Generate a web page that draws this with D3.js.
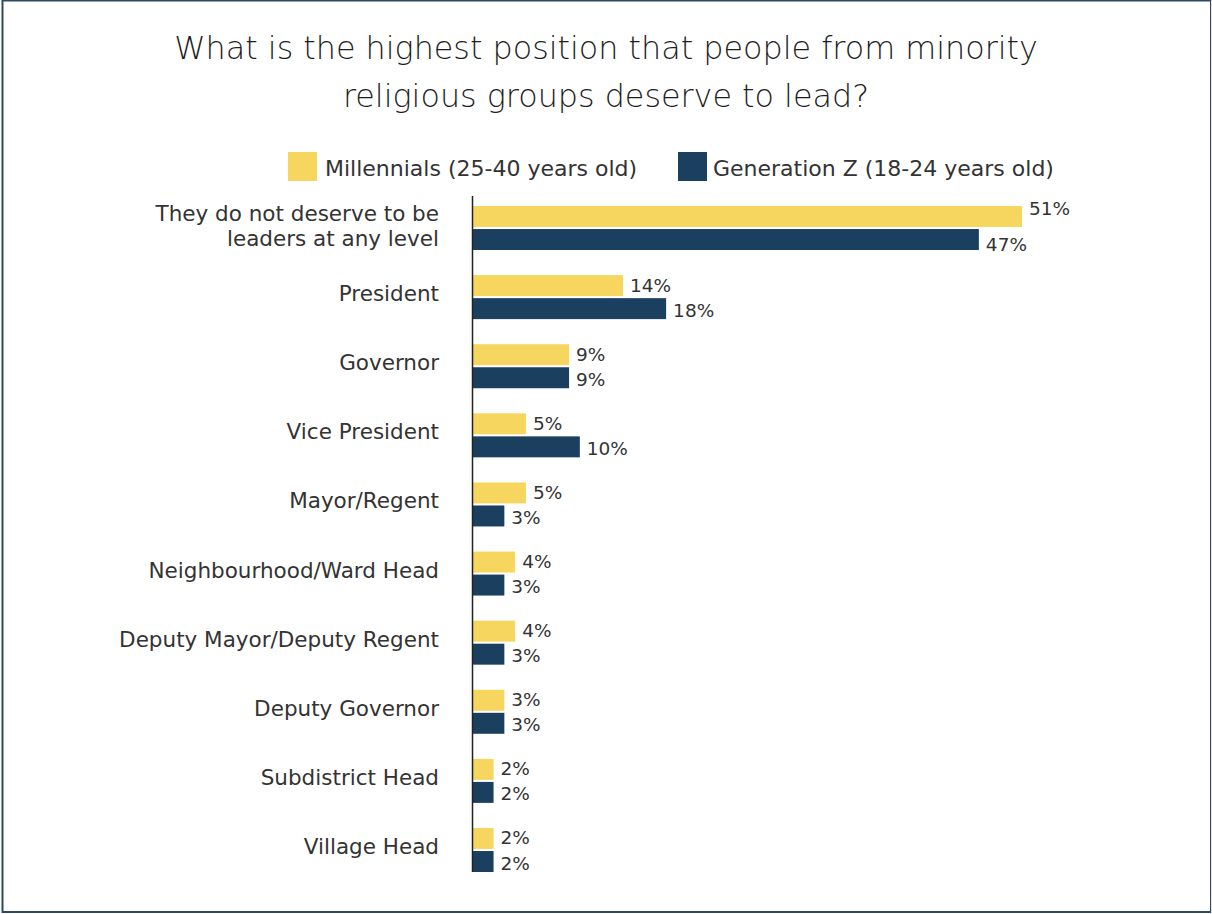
<!DOCTYPE html>
<html>
<head>
<meta charset="utf-8">
<script src="https://cdn.jsdelivr.net/npm/d3@7"></script>
<style>
  html, body { margin: 0; padding: 0; background: #fff; }
  svg { display: block; }
  text { font-family: "DejaVu Sans", "Open Sans", sans-serif; }
</style>
</head>
<body>
<svg id="chart" width="1212" height="914"></svg>
<script>
// Survey answers, top to bottom
const positions = [
  "They do not deserve to be|leaders at any level",
  "President",
  "Governor",
  "Vice President",
  "Mayor/Regent",
  "Neighbourhood/Ward Head",
  "Deputy Mayor/Deputy Regent",
  "Deputy Governor",
  "Subdistrict Head",
  "Village Head"
];
const seriesNames = ["Millennials (25-40 years old)", "Generation Z (18-24 years old)"];
const millennials = [51, 14, 9, 5, 5, 4, 4, 3, 2, 2];
const genZ = [47, 18, 9, 10, 3, 3, 3, 3, 2, 2];
const seriesColors = ["#F6D65E", "#1B3F5F"];
const titleLines = [
  "What is the highest position that people from minority",
  "religious groups deserve to lead?"
];

const svg = d3.select("#chart");
const W = 1212, H = 914;

// frame
svg.append("rect").attr("x", 2.5).attr("y", 0.5).attr("width", W - 3.5).attr("height", H - 2.5)
  .attr("fill", "none").attr("stroke", "#2E4A63").attr("stroke-width", 2);
svg.append("line").attr("x1", W - 0.5).attr("x2", W - 0.5).attr("y1", 0).attr("y2", H)
  .attr("stroke", "#e4e4e4").attr("stroke-width", 1);

// title
svg.append("g").selectAll("text").data(titleLines).join("text")
  .attr("x", 606).attr("y", (d, i) => 59 + i * 48)
  .attr("text-anchor", "middle")
  .attr("font-size", 31.8).attr("font-weight", 200).attr("fill", "#1e1e1e")
  .text(d => d);

// scales
const x = d3.scaleLinear().domain([0, 51]).range([472, 1022]);
const y = d3.scaleBand().domain(positions).range([193.45, 884.55]).paddingInner(0).paddingOuter(0);
const sub = d3.scaleBand().domain([0, 1]).range([-22, 22]).paddingInner(0.09);

// legend
const legend = svg.append("g");
const legendItems = [{ sx: 288, tx: 325 }, { sx: 678, tx: 713 }];
legendItems.forEach((it, i) => {
  legend.append("rect").attr("x", it.sx).attr("y", 152).attr("width", 29).attr("height", 29)
    .attr("fill", seriesColors[i]);
  legend.append("text").attr("x", it.tx).attr("y", 175.5)
    .attr("font-size", 22).attr("fill", "#333")
    .text(seriesNames[i]);
});

// bars
const rows = positions.map((p, i) => ({ p, i, vals: [millennials[i], genZ[i]] }));
const g = svg.append("g");
const groups = g.selectAll("g.row").data(rows).join("g")
  .attr("class", "row")
  .attr("transform", d => `translate(0,${y(d.p) + y.bandwidth() / 2})`);

groups.selectAll("rect").data(d => d.vals.map((v, k) => ({ v, k }))).join("rect")
  .attr("x", x(0))
  .attr("y", d => sub(d.k))
  .attr("width", d => x(d.v) - x(0))
  .attr("height", sub.bandwidth())
  .attr("fill", d => seriesColors[d.k]);

// value labels; the longest pair sits a little further apart
function labelShift(d) {
  if (d.row === 0) return d.k === 0 ? -8 : 4;
  return d.k === 0 ? -1 : 1;
}
groups.selectAll("text.val").data(d => d.vals.map((v, k) => ({ v, k, row: d.i }))).join("text")
  .attr("class", "val")
  .attr("x", d => x(d.v) + 7)
  .attr("y", d => sub(d.k) + sub.bandwidth() / 2 + 7 + labelShift(d))
  .attr("font-size", 18.5).attr("fill", "#333")
  .text(d => d.v + "%");

// category labels
groups.each(function (d) {
  const lines = d.p.split("|");
  const t = d3.select(this).append("text")
    .attr("x", 439).attr("text-anchor", "end")
    .attr("font-size", 21.5).attr("fill", "#333");
  lines.forEach((ln, j) => {
    t.append("tspan").attr("x", 439)
      .attr("y", lines.length > 1 ? -7 + j * 25 : 4)
      .text(ln);
  });
});

// axis line
svg.append("line").attr("x1", 472.5).attr("x2", 472.5).attr("y1", 196).attr("y2", 872)
  .attr("stroke", "#222").attr("stroke-width", 1.5);
</script>
</body>
</html>
